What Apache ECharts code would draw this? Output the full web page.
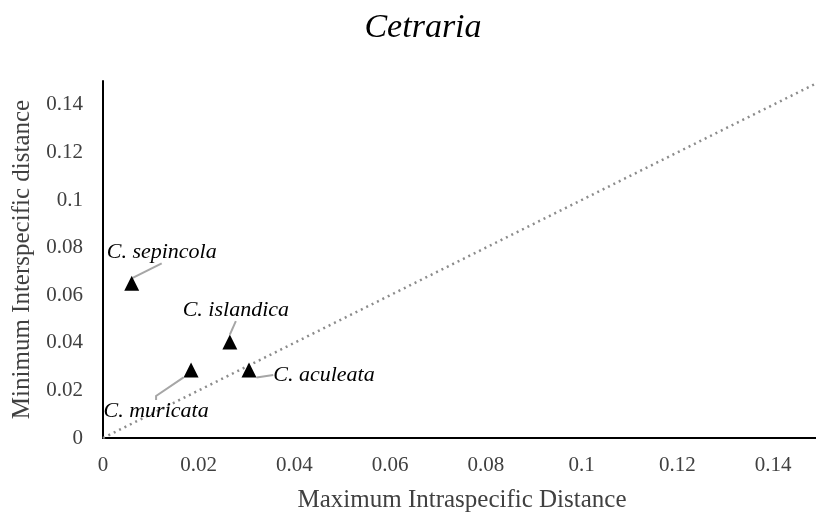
<!DOCTYPE html>
<html>
<head>
<meta charset="utf-8">
<script src="https://cdn.jsdelivr.net/npm/echarts@6/dist/echarts.min.js"></script>
<style>
  html, body { margin: 0; padding: 0; background: #fff; }
  #chart { width: 816px; height: 515px; }
</style>
</head>
<body>
<div id="chart"></div>
<script>
// species points
const species = ['C. sepincola', 'C. islandica', 'C. muricata', 'C. aculeata'];
const maxIntra = [0.006, 0.0265, 0.0184, 0.0305];
const minInter = [0.065, 0.0403, 0.0286, 0.0286];

// 1:1 reference line
const lineX = [0, 0.15];
const lineY = [0, 0.15];

// where each label sits relative to its point (px), and leader stub length
const labelShift = [[30, -31], [6, -32], [-35, 41], [75, 5]];
const leaderStub = [0, 0, 4, 0];

const serif = '"Liberation Serif", "Times New Roman", serif';
const textGrey = '#404040';

const chart = echarts.init(document.getElementById('chart'));

chart.setOption({
  animation: false,
  title: {
    text: 'Cetraria',
    left: 418,
    top: 6,
    textAlign: 'center',
    textStyle: { fontFamily: serif, fontStyle: 'italic', fontWeight: 'normal', fontSize: 34, color: '#000' }
  },
  grid: { left: 103, top: 81, width: 718, height: 357, outerBoundsMode: 'none', containLabel: false },
  xAxis: {
    type: 'value',
    min: 0,
    max: 0.15,
    interval: 0.02,
    name: 'Maximum Intraspecific Distance',
    nameLocation: 'middle',
    nameGap: 50,
    nameTextStyle: { fontFamily: serif, fontSize: 25, color: textGrey },
    axisLine: { show: true, lineStyle: { color: '#000', width: 2 } },
    axisTick: { show: false },
    splitLine: { show: false },
    axisLabel: {
      fontFamily: serif, fontSize: 21, color: textGrey, margin: 17,
      showMaxLabel: false,
      formatter: v => String(+v.toFixed(2))
    }
  },
  yAxis: {
    type: 'value',
    min: 0,
    max: 0.15,
    interval: 0.02,
    name: 'Minimum Interspecific distance',
    nameLocation: 'middle',
    nameGap: 63,
    nameTextStyle: { fontFamily: serif, fontSize: 25, color: textGrey },
    axisLine: { show: true, lineStyle: { color: '#000', width: 2 } },
    axisTick: { show: false },
    splitLine: { show: false },
    axisLabel: {
      fontFamily: serif, fontSize: 21, color: textGrey, margin: 20,
      showMaxLabel: false,
      formatter: v => String(+v.toFixed(2))
    }
  },
  series: [
    {
      type: 'line',
      data: lineX.map((x, i) => [x, lineY[i]]),
      symbol: 'none',
      lineStyle: { color: '#8c8c8c', width: 2.5, type: [2, 4] },
      z: 1
    },
    {
      type: 'scatter',
      data: maxIntra.map((x, i) => ({
        value: [x, minInter[i]],
        name: species[i],
        labelLine: { length2: leaderStub[i] }
      })),
      symbol: 'triangle',
      symbolSize: 15,
      itemStyle: { color: '#000', opacity: 1 },
      label: {
        show: true,
        position: 'inside',
        formatter: p => p.name,
        fontFamily: serif,
        fontStyle: 'italic',
        fontSize: 22,
        color: '#000'
      },
      labelLine: { show: true, lineStyle: { color: '#a6a6a6', width: 2 } },
      labelLayout: p => ({ dx: labelShift[p.dataIndex][0], dy: labelShift[p.dataIndex][1] }),
      z: 2
    }
  ]
});
</script>
</body>
</html>
